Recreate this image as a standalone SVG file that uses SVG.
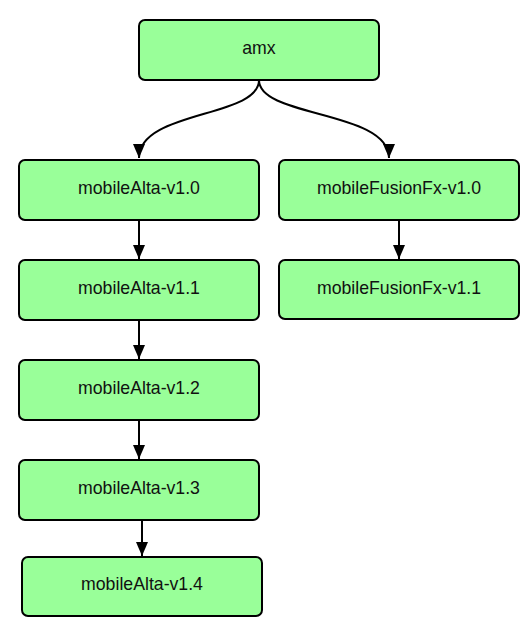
<svg xmlns="http://www.w3.org/2000/svg" width="532" height="629" viewBox="0 0 532 629">
<style>
.node rect{fill:#99ff99;stroke:#000;stroke-width:2}
.node text{font-family:"Liberation Sans",Arial,sans-serif;font-size:17.7px;fill:#111;text-anchor:middle}
.edges path{fill:none;stroke:#000;stroke-width:2}
</style>
<defs>
<marker id="arr" markerUnits="userSpaceOnUse" markerWidth="14" markerHeight="14" viewBox="0 0 14 12" refX="14" refY="6" orient="auto">
<path d="M0,0 L14,6 L0,12 Z" fill="#000"/>
</marker>
</defs>
<g class="edges">
<path d="M259,80 C259,118 139,110 139,158" marker-end="url(#arr)"/>
<path d="M259,80 C259,118 389,110 389,158" marker-end="url(#arr)"/>
<path d="M139,220 L139,259" marker-end="url(#arr)"/>
<path d="M139,320 L139,359" marker-end="url(#arr)"/>
<path d="M139,420 L139,459" marker-end="url(#arr)"/>
<path d="M142,517 L142,556" marker-end="url(#arr)"/>
<path d="M399,220 L399,259" marker-end="url(#arr)"/>
</g>
<g id="amx" class="node"><rect x="139" y="20" width="240" height="60" rx="6"/><text x="259" y="53.5">amx</text></g>
<g id="mobileAlta-v1.0" class="node"><rect x="19" y="160" width="240" height="60" rx="6"/><text x="139" y="193.5">mobileAlta-v1.0</text></g>
<g id="mobileFusionFx-v1.0" class="node"><rect x="279" y="160" width="240" height="60" rx="6"/><text x="399" y="193.5">mobileFusionFx-v1.0</text></g>
<g id="mobileAlta-v1.1" class="node"><rect x="19" y="260" width="240" height="60" rx="6"/><text x="139" y="293.5">mobileAlta-v1.1</text></g>
<g id="mobileFusionFx-v1.1" class="node"><rect x="279" y="260" width="240" height="59" rx="6"/><text x="399" y="293.5">mobileFusionFx-v1.1</text></g>
<g id="mobileAlta-v1.2" class="node"><rect x="19" y="360" width="240" height="60" rx="6"/><text x="139" y="393.5">mobileAlta-v1.2</text></g>
<g id="mobileAlta-v1.3" class="node"><rect x="19" y="460" width="240" height="60" rx="6"/><text x="139" y="493.5">mobileAlta-v1.3</text></g>
<g id="mobileAlta-v1.4" class="node"><rect x="22" y="557" width="240" height="59" rx="6"/><text x="142" y="590">mobileAlta-v1.4</text></g>
</svg>
